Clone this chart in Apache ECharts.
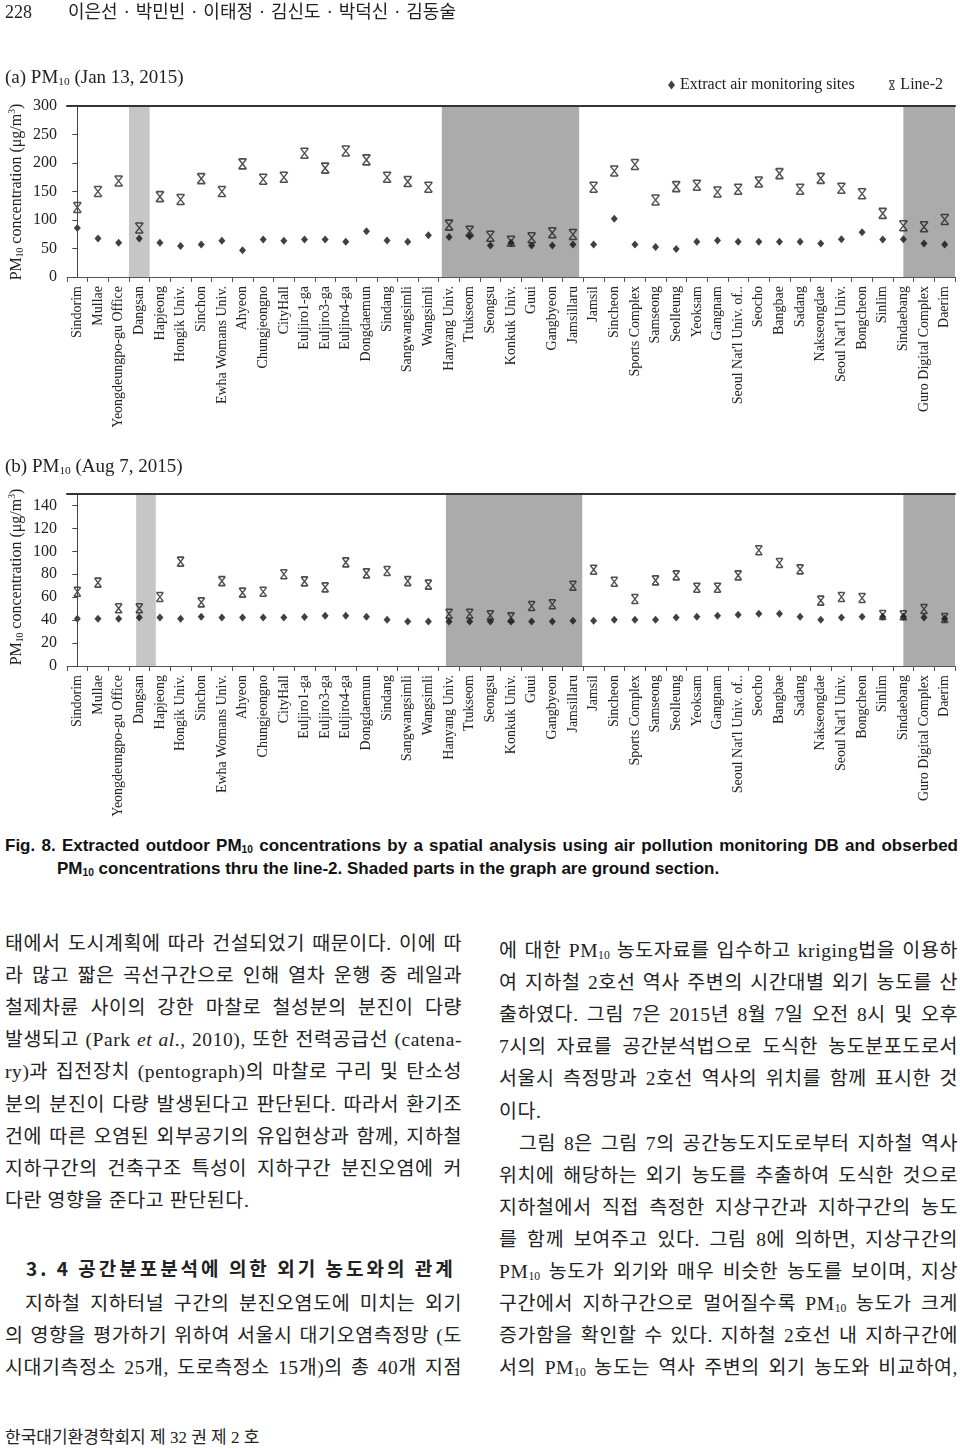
<!DOCTYPE html>
<html><head><meta charset="utf-8">
<script src="https://cdn.jsdelivr.net/npm/echarts/dist/echarts.min.js"></script>
<style>
html,body{margin:0;padding:0;background:#fff;}
body{width:960px;height:1449px;position:relative;overflow:hidden;color:#222;}
#chart{position:absolute;left:0;top:0;width:960px;height:830px;}
.t{position:absolute;white-space:nowrap;line-height:24px;height:24px;}
.serif{font-family:"Liberation Serif","Noto Sans CJK KR",serif;}
.sub{font-size:0.6em;vertical-align:-0.2em;letter-spacing:0;}
.sup{font-size:0.6em;vertical-align:0.65em;}
.body{font-family:"Liberation Serif","Noto Sans CJK KR",serif;font-size:19.5px;letter-spacing:0.6px;text-align:justify;text-align-last:justify;white-space:normal;overflow:visible;}
.last{text-align-last:left;}
.cap{font-family:"Liberation Sans Narrow","Liberation Sans",sans-serif;font-weight:bold;font-size:17px;color:#111;}
.yname{position:absolute;width:220px;text-align:center;transform:rotate(-90deg);font-family:"Liberation Serif",serif;font-size:16px;line-height:20px;height:20px;white-space:nowrap;}
</style></head>
<body>
<div id="chart"></div>

<div class="t serif" style="left:5px;top:0px;font-size:18px;">228</div>
<div class="t serif" style="left:68px;top:0px;font-size:18px;width:388px;text-align:justify;text-align-last:justify;white-space:normal;">이은선 · 박민빈 · 이태정 · 김신도 · 박덕신 · 김동술</div>

<div class="t serif" style="left:5px;top:65px;font-size:19px;">(a) PM<span class="sub">10</span> (Jan 13, 2015)</div>
<div class="t serif" style="left:5px;top:454px;font-size:19px;">(b) PM<span class="sub">10</span> (Aug 7, 2015)</div>

<div class="yname" style="left:-98px;top:182px;">PM<span class="sub">10</span> concentration (μg/m<span class="sup">3</span>)</div>
<div class="yname" style="left:-98px;top:567px;">PM<span class="sub">10</span> concentration (μg/m<span class="sup">3</span>)</div>

<div class="t cap" style="left:5px;top:834px;width:953px;text-align:justify;text-align-last:justify;white-space:normal;">Fig. 8. Extracted outdoor PM<span class="sub">10</span> concentrations by a spatial analysis using air pollution monitoring DB and obserbed</div>
<div class="t cap" style="left:57px;top:857px;">PM<span class="sub">10</span> concentrations thru the line-2. Shaded parts in the graph are ground section.</div>

<div id="leftcol"></div>
<div id="rightcol"></div>

<div class="t serif" style="left:5px;top:1426px;font-size:17px;">한국대기환경학회지 제 32 권 제 2 호</div>

<script>
// ---- chart data ----
const stations = ["Sindorim","Mullae","Yeongdeungpo-gu Office","Dangsan","Hapjeong","Hongik Univ.","Sinchon","Ewha Womans Univ.","Ahyeon","Chungjeongno","CityHall","Euljiro1-ga","Euljiro3-ga","Euljiro4-ga","Dongdaemun","Sindang","Sangwangsimli","Wangsimli","Hanyang Univ.","Ttukseom","Seongsu","Konkuk Univ.","Guui","Gangbyeon","Jamsillaru","Jamsil","Sincheon","Sports Complex","Samseong","Seolleung","Yeoksam","Gangnam","Seoul Nat'l Univ. of..","Seocho","Bangbae","Sadang","Nakseongdae","Seoul Nat'l Univ.","Bongcheon","Sinlim","Sindaebang","Guro Digital Complex","Daerim"];

const janSites = [86,67.5,60,67.5,60,54.6,57,63.4,47,65.8,63.4,65.8,65.8,61.7,80.4,64,62,73.4,70,71.6,55.2,60,55.2,55.2,57,57,102,57,52.8,49,61.7,64,62,62,62,62,58.7,66.4,78.7,65.8,66.4,58.7,57];
const janLine2 = [122,150,168.5,86,141,136,172.6,150,198.5,171.5,175,217,191,221,205.5,175,167.4,157.4,91,80.4,71.6,62.8,68.7,77.5,74.6,157.4,186,197.3,135,158.5,161,149,154,166.8,181.4,154,173,155.6,146,111.6,89.8,88,101];

const augSites = [41.3,41.3,41.3,42.2,42.2,41.3,43,42.2,42.2,42.2,42.2,42.7,43.9,43.9,43,40.4,38.7,38.7,38.7,38.7,38.7,38.7,38.7,38.7,39.5,39.5,40.4,40.4,40.4,42.2,43,43.9,44.8,45.6,45.6,43,40.4,42.2,43,43,43,42.2,41.3];
const augLine2 = [64.8,72.7,50.3,50.3,60.2,91,55.5,74,64,64.8,80,73.8,68.6,90.4,80.8,82.8,74,71,45.6,45.6,44.2,42.4,52.3,53.8,70,84,73.5,58.4,74.7,79,68.3,68.3,79,100.9,89.8,84.3,57,60.2,59.3,44.5,44.2,49.7,41.9];

// ground-section shading, in station-index units [from, to, kind]
const janShades = [[2.5,3.5,"light"],[17.65,24.3,"dark"],[40,42.5,"dark"]];
const augShades = [[2.85,3.8,"light"],[17.85,24.45,"dark"],[40,42.5,"dark"]];

// y axis scales
const janY = {min:0, max:300, interval:50};
const augY = {min:0, max:150, interval:20};

const seriesNames = ["Extract air monitoring sites","Line-2"];

// ---- text ----
const leftLines = [
 ["태에서 도시계획에 따라 건설되었기 때문이다. 이에 따",0],
 ["라 많고 짧은 곡선구간으로 인해 열차 운행 중 레일과",0],
 ["철제차륜 사이의 강한 마찰로 철성분의 분진이 다량",0],
 ["발생되고 (Park <i>et al</i>., 2010), 또한 전력공급선 (catena-",0],
 ["ry)과 집전장치 (pentograph)의 마찰로 구리 및 탄소성",0],
 ["분의 분진이 다량 발생된다고 판단된다. 따라서 환기조",0],
 ["건에 따른 오염된 외부공기의 유입현상과 함께, 지하철",0],
 ["지하구간의 건축구조 특성이 지하구간 분진오염에 커",0],
 ["다란 영향을 준다고 판단된다.",1]
];
const leftLines2 = [
 ["지하철 지하터널 구간의 분진오염도에 미치는 외기",2],
 ["의 영향을 평가하기 위하여 서울시 대기오염측정망 (도",0],
 ["시대기측정소 25개, 도로측정소 15개)의 총 40개 지점",0]
];
const PM = 'PM<span class="sub">10</span>';
const rightLines = [
 ["에 대한 "+PM+" 농도자료를 입수하고 kriging법을 이용하",0],
 ["여 지하철 2호선 역사 주변의 시간대별 외기 농도를 산",0],
 ["출하였다. 그림 7은 2015년 8월 7일 오전 8시 및 오후",0],
 ["7시의 자료를 공간분석법으로 도식한 농도분포도로서",0],
 ["서울시 측정망과 2호선 역사의 위치를 함께 표시한 것",0],
 ["이다.",1],
 ["그림 8은 그림 7의 공간농도지도로부터 지하철 역사",2],
 ["위치에 해당하는 외기 농도를 추출하여 도식한 것으로",0],
 ["지하철에서 직접 측정한 지상구간과 지하구간의 농도",0],
 ["를 함께 보여주고 있다. 그림 8에 의하면, 지상구간의",0],
 [PM+" 농도가 외기와 매우 비슷한 농도를 보이며, 지상",0],
 ["구간에서 지하구간으로 멀어질수록 "+PM+" 농도가 크게",0],
 ["증가함을 확인할 수 있다. 지하철 2호선 내 지하구간에",0],
 ["서의 "+PM+" 농도는 역사 주변의 외기 농도와 비교하여,",0]
];

function placeLines(container, lines, x, w, y0, step){
  let html = "";
  lines.forEach((ln,i)=>{
    const ind = ln[1]===2 ? 20 : 0;
    const cls = ln[1]===1 ? "t body last" : "t body";
    html += '<div class="'+cls+'" style="left:'+(x+ind)+'px;top:'+(y0+i*step-12)+'px;width:'+(w-ind)+'px;">'+ln[0]+'</div>';
  });
  container.insertAdjacentHTML("beforeend", html);
}
const lc = document.getElementById("leftcol");
placeLines(lc, leftLines, 5, 457, 944, 32.1);
lc.insertAdjacentHTML("beforeend",'<div class="t" style="left:26px;top:1256px;letter-spacing:3px;font-family:\'Noto Sans CJK KR\',sans-serif;font-weight:bold;font-size:19px;">3. 4 공간분포분석에 의한 외기 농도와의 관계</div>');
placeLines(lc, leftLines2, 5, 457, 1304, 32.1);
placeLines(document.getElementById("rightcol"), rightLines, 499, 459, 951, 32.1);

// ---- chart ----
const xMark = 'path://M1,0L7,0M1,11L7,11M0.8,0L7.2,11M7.2,0L0.8,11';
const serif = "Liberation Serif";
const shadeColor = {light:"#c6c6c6", dark:"#ababab"};

function shadeRenderer(shades){
  return function(params, api){
    const x0 = api.coord([api.value(0), 0])[0];
    const x1 = api.coord([api.value(1), 0])[0];
    const cs = params.coordSys;
    return {type:"rect", shape:{x:x0, y:cs.y, width:x1-x0, height:cs.height},
            style:{fill: shadeColor[shades[params.dataIndex][2]]}};
  };
}

function catAxis(gi){
  return {type:"category", gridIndex:gi, data:stations, z:5,
    axisLine:{lineStyle:{color:"#555", width:1}},
    axisTick:{show:true, length:5, lineStyle:{color:"#555"}},
    axisLabel:{rotate:90, interval:0, fontFamily:serif, fontSize:14, color:"#222", margin:9},
    splitLine:{show:false}};
}
function topAxis(gi){
  return {type:"value", gridIndex:gi, position:"top", min:-0.5, max:stations.length-0.5, z:5,
    axisLine:{show:true, lineStyle:{color:"#333", width:2}},
    axisTick:{show:false}, axisLabel:{show:false}, splitLine:{show:false}};
}
function valAxis(gi, sc){
  return {type:"value", gridIndex:gi, min:sc.min, max:sc.max, interval:sc.interval, z:5,
    axisLine:{show:true, lineStyle:{color:"#444", width:1}},
    axisTick:{show:true, length:5, lineStyle:{color:"#444"}},
    axisLabel:{fontFamily:serif, fontSize:16, color:"#222", margin:10, showMaxLabel: sc.max % sc.interval === 0},
    splitLine:{show:false}};
}

const chart = echarts.init(document.getElementById("chart"), null, {renderer:"canvas"});
chart.setOption({
  animation:false,
  backgroundColor:"transparent",
  grid:[
    {left:67, top:106, width:888, height:171},
    {left:67, top:494, width:888, height:172}
  ],
  xAxis:[catAxis(0), topAxis(0), catAxis(1), topAxis(1)],
  yAxis:[valAxis(0, janY), valAxis(1, augY)],
  legend:{
    right:12, top:72, itemGap:34, itemWidth:7, itemHeight:9,
    textStyle:{fontFamily:serif, fontSize:16, color:"#222"},
    data:[
      {name:seriesNames[0], icon:"diamond", itemStyle:{color:"#111"}},
      {name:seriesNames[1], icon:xMark, itemStyle:{color:"rgba(0,0,0,0)", borderColor:"#222", borderWidth:1.2}}
    ]
  },
  series:[
    {type:"custom", xAxisIndex:1, yAxisIndex:0, z:1, silent:true,
     data:janShades.map(s=>[s[0], s[1]]), encode:{x:[0,1]}, renderItem:shadeRenderer(janShades)},
    {type:"custom", xAxisIndex:3, yAxisIndex:1, z:1, silent:true,
     data:augShades.map(s=>[s[0], s[1]]), encode:{x:[0,1]}, renderItem:shadeRenderer(augShades)},
    {name:seriesNames[0], type:"scatter", xAxisIndex:0, yAxisIndex:0, z:3,
     symbol:"diamond", symbolSize:[7,8], itemStyle:{color:"#111"}, data:janSites},
    {name:seriesNames[1], type:"scatter", xAxisIndex:0, yAxisIndex:0, z:4,
     symbol:xMark, symbolSize:[8,10], itemStyle:{color:"rgba(0,0,0,0)", borderColor:"#222", borderWidth:1.4}, data:janLine2},
    {name:seriesNames[0], type:"scatter", xAxisIndex:2, yAxisIndex:1, z:3,
     symbol:"diamond", symbolSize:[7,8], itemStyle:{color:"#111"}, data:augSites},
    {name:seriesNames[1], type:"scatter", xAxisIndex:2, yAxisIndex:1, z:4,
     symbol:xMark, symbolSize:[7,9], itemStyle:{color:"rgba(0,0,0,0)", borderColor:"#222", borderWidth:1.4}, data:augLine2}
  ]
});
</script>
</body></html>
